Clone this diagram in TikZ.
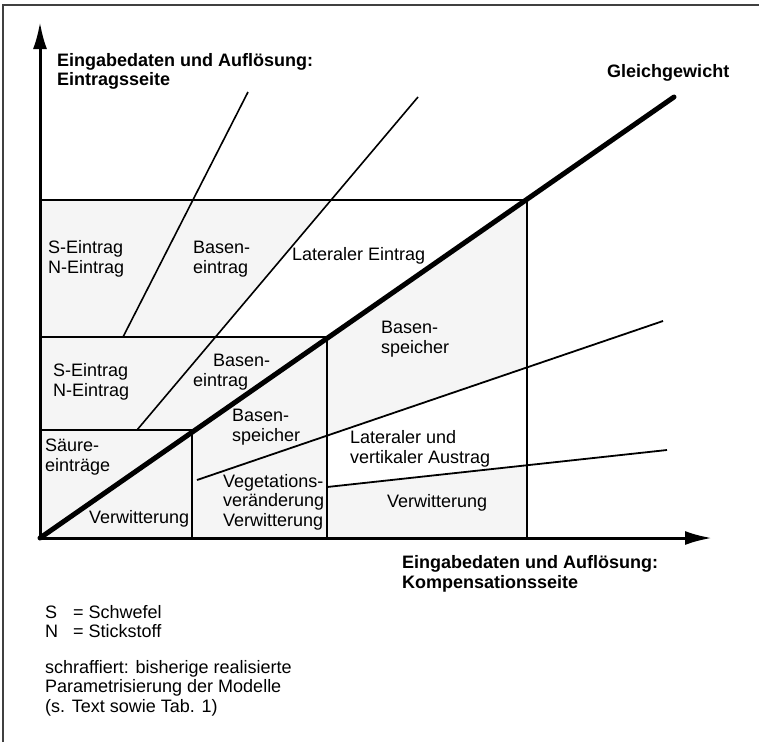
\documentclass[tikz,border=0pt]{standalone}
\usepackage{fontspec}
\setmainfont{Liberation Sans}
\usetikzlibrary{arrows.meta,patterns}
\pgfdeclarepatternformonly{stipple}{\pgfpointorigin}{\pgfpoint{9pt}{9pt}}{\pgfpoint{9pt}{9pt}}{%
  \pgfpathcircle{\pgfpoint{1pt}{2pt}}{0.5pt}%
  \pgfpathcircle{\pgfpoint{5pt}{6.5pt}}{0.5pt}%
  \pgfpathcircle{\pgfpoint{7.2pt}{1.5pt}}{0.5pt}%
  \pgfpathcircle{\pgfpoint{2.8pt}{7.6pt}}{0.5pt}%
  \pgfpathcircle{\pgfpoint{4pt}{3.8pt}}{0.4pt}%
  \pgfusepath{fill}}
\tikzset{
  lbl/.style={anchor=west,inner sep=0pt,align=left,font=\fontsize{18}{19.5}\selectfont},
  blbl/.style={lbl,font=\fontsize{18}{19.5}\selectfont\bfseries},
  thin line/.style={line width=1.6pt},
  box line/.style={line width=1.5pt},
  axis/.style={line width=3pt,-{Latex[length=27pt,width=14pt]}},
  equil/.style={line width=5pt,line cap=round},
  shade/.style={pattern=stipple,pattern color=black!55,fill=black!4},
  frame/.style={line width=1.3pt,black!75}
}
\begin{document}
\begin{tikzpicture}[x=1pt,y=-1pt]
\useasboundingbox (0,0) rectangle (759,742);
% frame (top and left edges only)
\draw[frame] (3,742) -- (3,5) -- (759,5);

% key coordinates
\coordinate (O) at (40,538);
\coordinate (TL) at (40,200);
\coordinate (TR) at (527,200);
\coordinate (BR) at (527,538);
\coordinate (M2L) at (40,337);
\coordinate (M2R) at (327,337);
\coordinate (M2B) at (327,538);
\coordinate (M3L) at (40,430);
\coordinate (M3R) at (192,430);
\coordinate (M3B) at (192,538);
\coordinate (GE) at (674,97);
\coordinate (L1a) at (123,337);
\coordinate (L1b) at (248,92);
\coordinate (L2a) at (137,430);
\coordinate (L2b) at (418,97);
\coordinate (LA1a) at (197,480);
\coordinate (LA1b) at (663,321);
\coordinate (LA2a) at (327,487);
\coordinate (LA2b) at (667,450);
\coordinate (YT) at (40,22);
\coordinate (XT) at (712,538);

% stippled area
\path[shade] (TL) -- (TR) -- (BR) -- (O) -- cycle;
\fill[white] (331,200) -- (TR) -- (M2R) -- (215.5,337) -- cycle;
\fill[white] (327,435.7) -- (527,367.5) -- (527,465) -- (327,487) -- cycle;

% boxes
\draw[box line] (TL) -- (TR) -- (BR);
\draw[box line] (M2L) -- (M2R) -- (M2B);
\draw[box line] (M3L) -- (M3R) -- (M3B);

% thin lines
\draw[thin line] (L1a) -- (L1b);
\draw[thin line] (L2a) -- (L2b);
\draw[line width=1.8pt] (LA1a) -- (LA1b);
\draw[line width=1.8pt] (LA2a) -- (LA2b);

% axes
\draw[axis] (40,540) -- (YT);
\draw[axis] (38.5,538) -- (XT);

% equilibrium
\draw[equil] (O) -- (GE);

% labels
\node[blbl] (ytitle) at (57,71.5) {Eingabedaten und Auflösung:\\Eintragsseite};
\node[blbl] (gg) at (607,73) {Gleichgewicht};
\node[lbl] (sn1) at (48,259) {S-Eintrag\\N-Eintrag};
\node[lbl] (be1) at (193,259) {Basen-\\eintrag};
\node[lbl] (le) at (292,256) {Lateraler Eintrag};
\node[lbl] (bs1) at (381,339) {Basen-\\speicher};
\node[lbl] (sn2) at (53,382) {S-Eintrag\\N-Eintrag};
\node[lbl] (be2a) at (213,360) {Basen-};
\node[lbl] (be2b) at (193,382) {eintrag};
\node[lbl] (bs2) at (232,427) {Basen-\\speicher};
\node[lbl] (sae) at (45,457) {Säure-\\einträge};
\node[lbl] (vw1) at (89,519) {Verwitterung};
\node[lbl] (veg) at (223,502) {Vegetations-\\veränderung\\Verwitterung};
\node[lbl] (lva) at (350,449) {Lateraler und\\vertikaler Austrag};
\node[lbl] (vw2) at (387,503) {Verwitterung};
\node[blbl] (xtitle) at (402,574) {Eingabedaten und Auflösung:\\Kompensationsseite};
\node[lbl] (kS) at (45,612) {S};
\node[lbl] (vS) at (73,612) {= Schwefel};
\node[lbl] (kN) at (45,631) {N};
\node[lbl] (vN) at (73,631) {= Stickstoff};
\node[lbl] (note) at (45,688) {schraffiert: bisherige realisierte\\Parametrisierung der Modelle\\(s. Text sowie Tab. 1)};
\end{tikzpicture}
\end{document}
